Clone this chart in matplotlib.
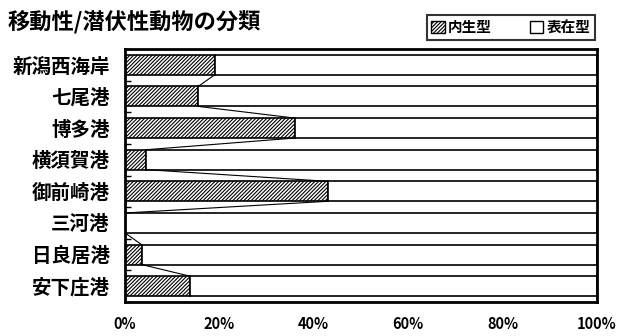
import matplotlib

matplotlib.use('Agg')

import matplotlib.pyplot as plt
from matplotlib.patches import Patch
import numpy as np

plt.rcParams['font.family'] = ['Noto Sans CJK JP', 'DejaVu Sans']
plt.rcParams['hatch.linewidth'] = 0.8

# data (% share of 内生型, rest is 表在型)
ports = ['新潟西海岸', '七尾港', '博多港', '横須賀港', '御前崎港', '三河港', '日良居港', '安下庄港']
endogenous = [19.0, 15.5, 36.0, 4.5, 43.0, 0.0, 3.5, 13.8]
epigenous = [100 - v for v in endogenous]
xticks = [0, 20, 40, 60, 80, 100]
xticklabels = ['0%', '20%', '40%', '60%', '80%', '100%']

fig = plt.figure(figsize=(6.27, 3.36), dpi=100)
ax = fig.add_axes([125 / 627, 1 - 302 / 336, 472 / 627, 253 / 336])

y = np.arange(len(ports))
h = 0.63
hatch = '/' * 9
ax.barh(y, endogenous, height=h, color='white', edgecolor='black',
        hatch=hatch, linewidth=1.2)
ax.barh(y, epigenous, left=endogenous, height=h, color='white',
        edgecolor='black', linewidth=1.2)

# series lines between neighbouring bars
for i in range(len(ports) - 1):
    ax.plot([endogenous[i], endogenous[i + 1]], [y[i] + h / 2, y[i + 1] - h / 2],
            color='black', lw=0.8)

ax.set_xlim(0, 100)
ax.set_ylim(len(ports) - 0.5, -0.5)
ax.set_yticks(y)
ax.set_yticklabels(ports, fontsize=14, fontweight='bold')
ax.set_yticks(np.arange(len(ports) + 1) - 0.5, minor=True)
ax.tick_params(axis='y', which='major', length=0, pad=11)
ax.tick_params(axis='y', which='minor', direction='in', length=4, width=1)
ax.set_xticks(xticks)
ax.set_xticklabels(xticklabels, fontsize=10.5, fontweight='bold')
ax.tick_params(axis='x', length=0, pad=10)
for s in ax.spines.values():
    s.set_linewidth(2)

fig.text(8 / 627, 1 - 23 / 336, '移動性/潜伏性動物の分類', fontsize=16,
         fontweight='bold', style='italic', va='center', ha='left')

handles = [Patch(facecolor='white', edgecolor='black', hatch=hatch, label='内生型'),
           Patch(facecolor='white', edgecolor='black', label='表在型')]
leg = fig.legend(handles=handles, loc='upper right', ncol=2,
                 bbox_to_anchor=(595 / 627, 1 - 15 / 336), borderaxespad=0,
                 frameon=True, fancybox=False, edgecolor='black',
                 handlelength=0.9, handleheight=0.9, handletextpad=0.25,
                 columnspacing=2.6, borderpad=0.3,
                 prop={'size': 10.5, 'weight': 'bold'})
leg.get_frame().set_linewidth(1.5)

fig.savefig('out.png', dpi=100)
